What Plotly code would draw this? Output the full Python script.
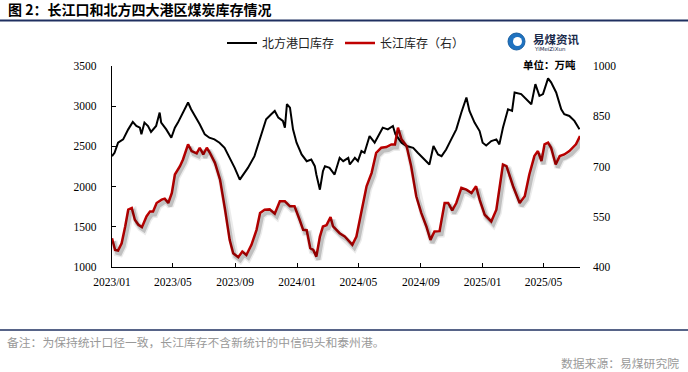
import plotly.graph_objects as go

# ---------------- data ----------------
north_dates = [
    "2023-01-01", "2023-01-06", "2023-01-13", "2023-01-23", "2023-02-02", "2023-02-11", "2023-02-18",
    "2023-02-25", "2023-02-28", "2023-03-06", "2023-03-13", "2023-03-19", "2023-03-29", "2023-04-05",
    "2023-04-08", "2023-04-18", "2023-04-28", "2023-05-05", "2023-05-11", "2023-05-21", "2023-05-31",
    "2023-06-06", "2023-06-14", "2023-06-23", "2023-07-03", "2023-07-12", "2023-07-22", "2023-08-01",
    "2023-08-11", "2023-08-21", "2023-08-31", "2023-09-10", "2023-09-26", "2023-10-09", "2023-10-22",
    "2023-11-01", "2023-11-11", "2023-11-18", "2023-11-25", "2023-12-04", "2023-12-08", "2023-12-12",
    "2023-12-18", "2023-12-24", "2023-12-31", "2024-01-10", "2024-01-20", "2024-01-29", "2024-02-05",
    "2024-02-08", "2024-02-15", "2024-02-21", "2024-02-25", "2024-03-05", "2024-03-15", "2024-03-25",
    "2024-04-01", "2024-04-11", "2024-04-14", "2024-04-24", "2024-04-30", "2024-05-07", "2024-05-13",
    "2024-05-23", "2024-06-02", "2024-06-09", "2024-06-18", "2024-06-28", "2024-07-08", "2024-07-13",
    "2024-07-25", "2024-08-04", "2024-08-17", "2024-08-26", "2024-09-09", "2024-09-18", "2024-09-26",
    "2024-10-05", "2024-10-12", "2024-10-21", "2024-10-31", "2024-11-10", "2024-11-20", "2024-11-30",
    "2024-12-06", "2024-12-16", "2024-12-26", "2025-01-01", "2025-01-08", "2025-01-18", "2025-01-28",
    "2025-02-03", "2025-02-10", "2025-02-20", "2025-02-28", "2025-03-05", "2025-03-18", "2025-03-28",
    "2025-04-07", "2025-04-15", "2025-04-23", "2025-04-30", "2025-05-10", "2025-05-16", "2025-05-26",
    "2025-06-05", "2025-06-11", "2025-06-21", "2025-07-01", "2025-07-11",
]
north_values = [
    2379, 2421, 2546, 2587, 2712, 2804, 2754,
    2733, 2650, 2796, 2754, 2679, 2754, 2921,
    2796, 2712, 2608, 2733, 2796, 2921, 3046,
    2962, 2880, 2775, 2650, 2608, 2587, 2546,
    2483, 2358, 2233, 2087, 2233, 2379, 2629,
    2837, 2900, 2941, 2858, 2817, 2733, 3025,
    2983, 2712, 2546, 2400, 2316, 2337, 2254,
    2150, 1962, 2191, 2254, 2233, 2150, 2358,
    2316, 2358, 2275, 2358, 2316, 2442, 2421,
    2629, 2546, 2629, 2733, 2712, 2754, 2650,
    2546, 2504, 2483, 2421, 2337, 2275, 2504,
    2400, 2379, 2462, 2587, 2712, 2921, 3108,
    2941, 2796, 2691, 2546, 2512, 2566, 2587,
    2525, 2733, 2962, 2941, 3171, 3150, 3087,
    3025, 3275, 3129, 3150, 3346, 3296, 3171,
    2962, 2900, 2879, 2817, 2712,
]

yangtze_dates = [
    "2023-01-01", "2023-01-07", "2023-01-13", "2023-01-20", "2023-01-27", "2023-02-02", "2023-02-09",
    "2023-02-15", "2023-02-22", "2023-03-01", "2023-03-10", "2023-03-17", "2023-03-23", "2023-03-30",
    "2023-04-09", "2023-04-15", "2023-04-22", "2023-04-29", "2023-05-05", "2023-05-15", "2023-05-21",
    "2023-05-31", "2023-06-07", "2023-06-17", "2023-06-23", "2023-06-30", "2023-07-07", "2023-07-13",
    "2023-07-23", "2023-08-02", "2023-08-12", "2023-08-21", "2023-08-28", "2023-09-07", "2023-09-15",
    "2023-09-23", "2023-10-03", "2023-10-13", "2023-10-20", "2023-10-29", "2023-11-08", "2023-11-18",
    "2023-11-28", "2023-12-08", "2023-12-18", "2023-12-27", "2024-01-06", "2024-01-13", "2024-01-20",
    "2024-01-27", "2024-02-02", "2024-02-08", "2024-02-15", "2024-02-21", "2024-02-28", "2024-03-07",
    "2024-03-12", "2024-03-25", "2024-04-04", "2024-04-10", "2024-04-19", "2024-04-27", "2024-05-07",
    "2024-05-17", "2024-05-27", "2024-06-05", "2024-06-15", "2024-06-25", "2024-07-05", "2024-07-12",
    "2024-07-18", "2024-07-25", "2024-08-04", "2024-08-13", "2024-08-23", "2024-09-02", "2024-09-12",
    "2024-09-20", "2024-09-28", "2024-10-08", "2024-10-18", "2024-10-25", "2024-11-02", "2024-11-10",
    "2024-11-20", "2024-11-30", "2024-12-10", "2024-12-19", "2024-12-26", "2025-01-05", "2025-01-18",
    "2025-01-28", "2025-02-10", "2025-02-17", "2025-03-02", "2025-03-15", "2025-03-25", "2025-04-03",
    "2025-04-13", "2025-04-20", "2025-04-27", "2025-05-03", "2025-05-10", "2025-05-16", "2025-05-25",
    "2025-06-02", "2025-06-11", "2025-06-21", "2025-07-04", "2025-07-12",
]
yangtze_values = [
    486, 451, 449, 471, 521, 571, 576,
    541, 526, 519, 551, 566, 566, 591,
    601, 604, 591, 621, 676, 701, 721,
    766, 746, 739, 756, 736, 756, 741,
    711, 661, 571, 481, 441, 429, 446,
    436, 466, 511, 561, 571, 572, 559,
    596, 596, 581, 581, 541, 511, 510,
    456, 451, 431, 491, 521, 525, 549,
    521, 501, 491, 481, 466, 491, 571,
    641, 681, 741, 756, 758, 766, 766,
    816, 781, 761, 701, 611, 561, 521,
    481, 506, 507, 591, 591, 569, 591,
    636, 631, 621, 641, 601, 556, 536,
    571, 706, 701, 641, 591, 611, 676,
    731, 746, 716, 766, 771, 756, 706,
    731, 736, 746, 766, 791,
]

left_ticks = [1000, 1500, 2000, 2500, 3000, 3500]
right_ticks = [400, 550, 700, 850, 1000]

title_text = "图 2：长江口和北方四大港区煤炭库存情况"
note_text = "备注：为保持统计口径一致，长江库存不含新统计的中信码头和泰州港。"
source_text = "数据来源：易煤研究院"
unit_text = "单位：万吨"

# ---------------- figure ----------------
W, H = 688, 372
def px(x):
    return x / W
def py(y):
    return 1 - y / H

CJK = "Noto Sans CJK SC"
SERIF = "Liberation Serif"
NAVY = "#1f3060"

fig = go.Figure()

# shadow of the red line (drawn on slightly shifted overlay axes)
fig.add_trace(go.Scatter(x=yangtze_dates, y=yangtze_values, mode="lines",
                         line=dict(color="rgba(0,0,0,0.08)", width=7),
                         xaxis="x2", yaxis="y3", showlegend=False, hoverinfo="skip"))
fig.add_trace(go.Scatter(x=yangtze_dates, y=yangtze_values, mode="lines",
                         line=dict(color="rgba(0,0,0,0.18)", width=4),
                         xaxis="x2", yaxis="y3", showlegend=False, hoverinfo="skip"))

fig.add_trace(go.Scatter(x=north_dates, y=north_values, mode="lines", name="北方港口库存",
                         line=dict(color="#000000", width=2)))
fig.add_trace(go.Scatter(x=yangtze_dates, y=yangtze_values, mode="lines", name="长江库存（右）",
                         line=dict(color="#c00000", width=2.5), yaxis="y2"))

xdom = [px(112), px(580)]
ydom = [py(267), py(66)]

tickfont = dict(family=SERIF, size=11.5, color="#000")

fig.update_layout(
    width=W, height=H,
    margin=dict(l=0, r=0, t=0, b=0, autoexpand=False),
    paper_bgcolor="white", plot_bgcolor="white",
    showlegend=True,
    legend=dict(orientation="h", x=px(222), xanchor="left", y=py(43), yanchor="middle",
                font=dict(family=CJK, size=12, color="#222"), itemwidth=30,
                entrywidth=73, entrywidthmode="pixels",
                bgcolor="rgba(0,0,0,0)", traceorder="normal"),
    xaxis=dict(domain=xdom, type="date", range=["2023-01-01", "2025-07-12"],
               tick0="2023-01-01", dtick="M4", tickformat="%Y/%m",
               showline=True, linecolor="#000", linewidth=1.2,
               ticks="inside", ticklen=4, tickcolor="#000", automargin=False,
               showgrid=False, zeroline=False, tickfont=tickfont, ticklabelstandoff=4),
    xaxis2=dict(domain=xdom, type="date", range=["2022-12-28", "2025-07-08"],
                overlaying="x", visible=False, automargin=False),
    yaxis=dict(domain=ydom, range=[1000, 3500], tickvals=left_ticks,
               showline=True, linecolor="#000", linewidth=1.2,
               ticks="inside", ticklen=4, tickcolor="#000", automargin=False,
               showgrid=False, zeroline=False, tickfont=tickfont, ticklabelstandoff=12),
    yaxis2=dict(range=[400, 1000], tickvals=right_ticks, overlaying="y", side="right",
                showline=False, ticks="", showgrid=False, zeroline=False, automargin=False,
                tickfont=tickfont, ticklabelstandoff=12),
    yaxis3=dict(range=[409, 1009], overlaying="y", visible=False, automargin=False),
)

# header / footer rules
fig.add_shape(type="line", xref="paper", yref="paper", x0=0, x1=1, y0=py(20.5), y1=py(20.5),
              line=dict(color=NAVY, width=2))
fig.add_shape(type="line", xref="paper", yref="paper", x0=0, x1=1, y0=py(330), y1=py(330),
              line=dict(color=NAVY, width=1.5))

# logo circle
fig.add_shape(type="circle", xref="paper", yref="paper",
              x0=px(508), x1=px(525), y0=py(50), y1=py(33),
              fillcolor="#1f72c0", line=dict(color="#1a5fa0", width=1))
fig.add_shape(type="circle", xref="paper", yref="paper",
              x0=px(513), x1=px(522), y0=py(46), y1=py(37),
              fillcolor="white", line=dict(width=0))

ann = [
    dict(text="<b>" + title_text + "</b>", x=px(6), y=py(9), xanchor="left", yanchor="middle",
         font=dict(family=CJK, size=14, color="#000")),
    dict(text="<b>易煤资讯</b>", x=px(531), y=py(39), xanchor="left", yanchor="middle",
         font=dict(family=CJK, size=11.5, color="#1a2a4a")),
    dict(text="YiMeiZiXun", x=px(532), y=py(48.5), xanchor="left", yanchor="middle",
         font=dict(family="DejaVu Sans", size=5.5, color="#1a2a4a")),
    dict(text="<b>" + unit_text + "</b>", x=px(578), y=py(64), xanchor="right", yanchor="middle",
         font=dict(family=CJK, size=10.5, color="#000")),
    dict(text=note_text, x=px(5), y=py(341), xanchor="left", yanchor="middle",
         font=dict(family=CJK, size=11.8, color="#999")),
    dict(text=source_text, x=px(681), y=py(362), xanchor="right", yanchor="middle",
         font=dict(family=CJK, size=11.8, color="#999")),
]
for a in ann:
    a.update(xref="paper", yref="paper", showarrow=False)
    fig.add_annotation(**a)

fig.write_html("out.html", config={"displayModeBar": False},
               post_script="document.body.style.margin='0';document.body.style.overflow='hidden';")
